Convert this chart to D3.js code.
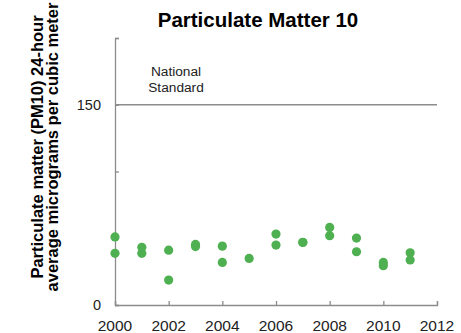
<!DOCTYPE html>
<html>
<head>
<meta charset="utf-8">
<script src="https://d3js.org/d3.v7.min.js"></script>
<style>
  body { margin: 0; background: #fff; }
  text { font-family: "Liberation Sans", Arial, sans-serif; }
</style>
</head>
<body>
<script>
// PM10 readings per year (two monitors most years)
var years  = [2000, 2000, 2001, 2001, 2002, 2002, 2003, 2003, 2004, 2004, 2005,
              2006, 2006, 2007, 2007, 2008, 2008, 2009, 2009, 2010, 2010, 2011, 2011];
var values = [51, 38.7, 43.2, 38.7, 41.1, 18.7, 45.4, 43.8, 44.1, 31.9, 34.9,
              53.1, 44.9, 47, 46.8, 58.1, 51.9, 50.1, 39.9, 31.9, 29.4, 39.1, 33.7];
var xTicks = [2000, 2002, 2004, 2006, 2008, 2010, 2012];
var yTicks = [0, 50, 100, 150, 200];
var yLabels = [0, 150];
var standard = 150;

var w = 461, h = 333;
var mLeft = 115, mRight = 437, mTop = 38, mBottom = 305;
var grey = "#8c8c8c";
var green = "#4fb052";

var svg = d3.select("body").append("svg")
  .attr("width", w)
  .attr("height", h);

var x = d3.scaleLinear().domain([2000, 2012]).range([mLeft, mRight]);
var y = d3.scaleLinear().domain([0, 200]).range([mBottom, mTop]);

// national standard line
svg.append("line")
  .attr("x1", mLeft).attr("x2", mRight)
  .attr("y1", y(standard)).attr("y2", y(standard))
  .attr("stroke", grey).attr("stroke-width", 1.3);

// y axis (ticks point inward)
var yAxis = svg.append("g")
  .attr("transform", "translate(" + mLeft + ",0)")
  .call(d3.axisRight(y).tickValues(yTicks).tickSize(4).tickFormat(""));
yAxis.select(".domain").attr("stroke", grey).attr("stroke-width", 1.3);
yAxis.selectAll(".tick line").attr("stroke", grey).attr("stroke-width", 1.3);

svg.selectAll(".ylab")
  .data(yLabels)
  .enter().append("text")
  .attr("class", "ylab")
  .attr("x", mLeft - 14)
  .attr("y", function(d) { return y(d); })
  .attr("dy", "0.36em")
  .attr("text-anchor", "end")
  .style("font-size", "14.5px")
  .attr("fill", "#222")
  .text(function(d) { return d; });

// x axis (ticks pointing up)
var xAxis = svg.append("g")
  .attr("transform", "translate(0," + mBottom + ")")
  .call(d3.axisTop(x).tickValues(xTicks).tickSize(4).tickFormat(""));
xAxis.select(".domain").attr("stroke", grey).attr("stroke-width", 1.3);
xAxis.selectAll(".tick line").attr("stroke", grey).attr("stroke-width", 1.3);

svg.selectAll(".xlab")
  .data(xTicks)
  .enter().append("text")
  .attr("class", "xlab")
  .attr("x", function(d) { return x(d); })
  .attr("y", 330.5)
  .attr("text-anchor", "middle")
  .style("font-size", "15.5px")
  .attr("fill", "#222")
  .text(function(d) { return d; });

// points
svg.selectAll("circle")
  .data(values)
  .enter().append("circle")
  .attr("cx", function(d, i) { return x(years[i]); })
  .attr("cy", function(d) { return y(d); })
  .attr("r", 4.6)
  .attr("fill", green);

// title
svg.append("text")
  .attr("x", 258)
  .attr("y", 27)
  .attr("text-anchor", "middle")
  .style("font-size", "20.5px")
  .style("font-weight", "bold")
  .text("Particulate Matter 10");

// annotation
var note = svg.append("text")
  .attr("text-anchor", "middle")
  .style("font-size", "13.7px")
  .attr("fill", "#222");
note.append("tspan").attr("x", 176).attr("y", 76).text("National");
note.append("tspan").attr("x", 176).attr("y", 91.5).text("Standard");

// y axis title
var yt = svg.append("text")
  .attr("transform", "translate(0,147) rotate(-90)")
  .attr("text-anchor", "middle")
  .style("font-size", "16.5px")
  .style("font-weight", "bold");
yt.append("tspan").attr("x", 0).attr("y", 43).text("Particulate matter (PM10) 24-hour");
yt.append("tspan").attr("x", 0).attr("y", 58).text("average micrograms per cubic meter");
</script>
</body>
</html>
